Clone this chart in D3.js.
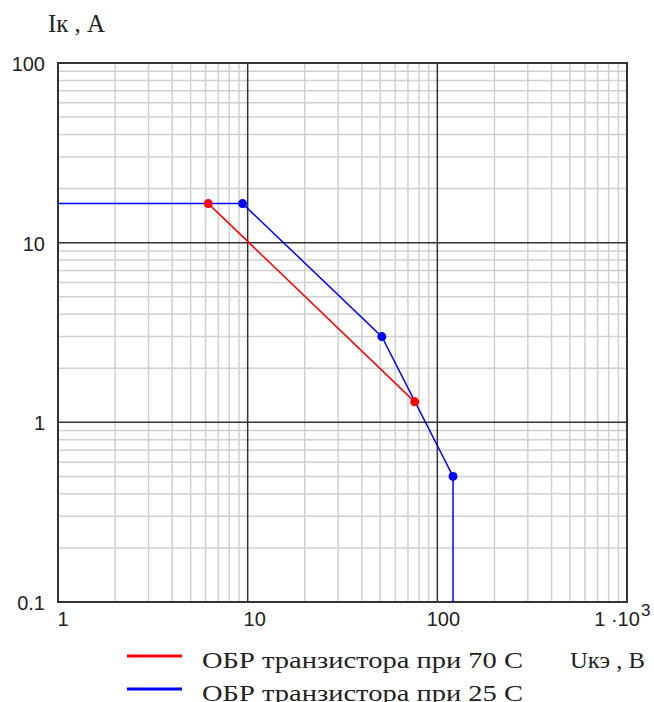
<!DOCTYPE html>
<html>
<head>
<meta charset="utf-8">
<script src="https://cdn.jsdelivr.net/npm/d3@7"></script>
<style>
  body { margin: 0; background: #fff; }
  svg { display: block; }
</style>
</head>
<body>
<svg width="654" height="702"></svg>
<script>
// data: two SOA curves (Uкэ in V, Iк in A)
var red70U = [6.2, 76];
var red70I = [16.5, 1.3];
var blue25U = [1, 9.4, 51, 121, 121];
var blue25I = [16.5, 16.5, 3, 0.5, 0.1];
var blueDots = [1, 2, 3]; // which blue points get a marker
var xTicks = [1, 10, 100, 1000];
var xTickLabels = ["1", "10", "100", "1 ·10"];
var yTicks = [0.1, 1, 10, 100];
var yTickLabels = ["0.1", "1", "10", "100"];
var legendNames = ["ОБР транзистора при 70 С", "ОБР транзистора при 25 С"];
var legendColors = ["#ff0000", "#0000ff"];

var svg = d3.select("svg");

// plot box (don't call it top, window.top is taken)
var pL = 58, pR = 627, pT = 63, pB = 602;

var x = d3.scaleLog().domain([1, 1000]).range([pL, pR]);
var y = d3.scaleLog().domain([0.1, 100]).range([pB, pT]);

// minor grid values 2..9 in each decade
var minorX = [];
[1, 10, 100].forEach(function(d) {
  for (var k = 2; k <= 9; k++) minorX.push(d * k);
});
var minorY = [];
[0.1, 1, 10].forEach(function(d) {
  for (var k = 2; k <= 9; k++) minorY.push(d * k);
});

var g = svg.append("g");

g.selectAll(".mx").data(minorX).enter().append("line")
  .attr("x1", function(d) { return x(d); })
  .attr("x2", function(d) { return x(d); })
  .attr("y1", pT).attr("y2", pB)
  .attr("stroke", "#d0d0d0").attr("stroke-width", 1.5);

g.selectAll(".my").data(minorY).enter().append("line")
  .attr("y1", function(d) { return y(d); })
  .attr("y2", function(d) { return y(d); })
  .attr("x1", pL).attr("x2", pR)
  .attr("stroke", "#d0d0d0").attr("stroke-width", 1.5);

// major grid
g.selectAll(".Mx").data([10, 100]).enter().append("line")
  .attr("x1", function(d) { return x(d); })
  .attr("x2", function(d) { return x(d); })
  .attr("y1", pT).attr("y2", pB)
  .attr("stroke", "#333").attr("stroke-width", 1.5);

g.selectAll(".My").data([1, 10]).enter().append("line")
  .attr("y1", function(d) { return y(d); })
  .attr("y2", function(d) { return y(d); })
  .attr("x1", pL).attr("x2", pR)
  .attr("stroke", "#333").attr("stroke-width", 1.5);

// border
g.append("rect")
  .attr("x", pL).attr("y", pT)
  .attr("width", pR - pL).attr("height", pB - pT)
  .attr("fill", "none").attr("stroke", "#333").attr("stroke-width", 2);

// curves
var line = d3.line()
  .x(function(d) { return x(d[0]); })
  .y(function(d) { return y(d[1]); });

var redPts = d3.zip(red70U, red70I);
var bluePts = d3.zip(blue25U, blue25I);

svg.append("path").datum(redPts)
  .attr("d", line).attr("fill", "none")
  .attr("stroke", "#ff0000").attr("stroke-width", 1.5);

svg.append("path").datum(bluePts)
  .attr("d", line).attr("fill", "none")
  .attr("stroke", "#0000ff").attr("stroke-width", 1.5);

svg.selectAll(".rdot").data(redPts).enter().append("circle")
  .attr("cx", function(d) { return x(d[0]); })
  .attr("cy", function(d) { return y(d[1]); })
  .attr("r", 4.5).attr("fill", "#ff0000");

svg.selectAll(".bdot").data(blueDots.map(function(i) { return bluePts[i]; })).enter().append("circle")
  .attr("cx", function(d) { return x(d[0]); })
  .attr("cy", function(d) { return y(d[1]); })
  .attr("r", 4.5).attr("fill", "#0000ff");

// tick labels
var tickFont = "'Liberation Sans', Arial, sans-serif";
var xOff = [5, 7, 6, -10];
svg.selectAll(".xt").data(xTicks).enter().append("text")
  .attr("x", function(d, i) { return x(d) + xOff[i]; })
  .attr("y", 626)
  .attr("text-anchor", "middle")
  .attr("font-family", tickFont).attr("font-size", 20).attr("fill", "#222")
  .text(function(d, i) { return xTickLabels[i]; });

svg.append("text")
  .attr("x", x(1000) + 14).attr("y", 616)
  .attr("font-family", tickFont).attr("font-size", 17).attr("fill", "#222")
  .text("3");

svg.selectAll(".yt").data(yTicks).enter().append("text")
  .attr("x", 45)
  .attr("y", function(d) { return y(d) + 8; })
  .attr("text-anchor", "end")
  .attr("font-family", tickFont).attr("font-size", 20).attr("fill", "#222")
  .text(function(d, i) { return yTickLabels[i]; });

// axis titles
var serif = "'Liberation Serif', 'Times New Roman', serif";
svg.append("text").attr("x", 48).attr("y", 32)
  .attr("font-family", serif).attr("font-size", 25).attr("fill", "#222")
  .attr("textLength", 57).attr("lengthAdjust", "spacingAndGlyphs")
  .text("Iк , А");

svg.append("text").attr("x", 570).attr("y", 668)
  .attr("font-family", serif).attr("font-size", 24).attr("fill", "#222")
  .attr("textLength", 75).attr("lengthAdjust", "spacingAndGlyphs")
  .text("Uкэ , В");

// legend
var leg = svg.selectAll(".leg").data(legendNames).enter().append("g")
  .attr("transform", function(d, i) { return "translate(0," + (656 + i * 33) + ")"; });

leg.append("line")
  .attr("x1", 127).attr("x2", 182).attr("y1", 0).attr("y2", 0)
  .attr("stroke", function(d, i) { return legendColors[i]; })
  .attr("stroke-width", 3);

leg.append("text")
  .attr("x", 202).attr("y", 12)
  .attr("font-family", serif).attr("font-size", 24).attr("fill", "#222")
  .attr("textLength", 321).attr("lengthAdjust", "spacingAndGlyphs")
  .text(function(d) { return d; });
</script>
</body>
</html>
